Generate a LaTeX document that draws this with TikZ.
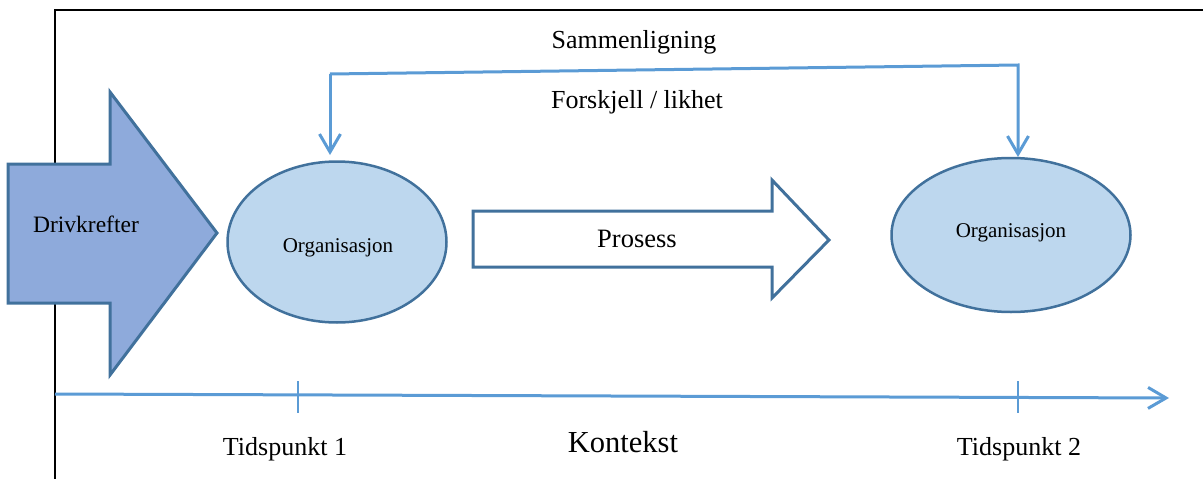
\documentclass[tikz,border=0pt]{standalone}
\usepackage{fontspec}
\setmainfont{Liberation Serif}
\usetikzlibrary{shapes.geometric,arrows.meta}
\definecolor{shapeline}{HTML}{41719C}
\definecolor{drivfill}{HTML}{8EAADB}
\definecolor{orgfill}{HTML}{BDD7EE}
\definecolor{linkblue}{HTML}{5B9BD5}
\tikzset{
  bigarrow/.style={draw=shapeline, line width=3pt, line join=miter},
  orgnode/.style={ellipse, draw=shapeline, fill=orgfill, line width=2.5pt, inner sep=0pt},
  link/.style={draw=linkblue, line width=3pt},
  tick/.style={draw=linkblue, line width=1.5pt},
  lbl/.style={anchor=base, inner sep=0pt, font=\fontsize{26}{30}\selectfont},
  tip/.style={-{Straight Barb[length=18pt,width=21pt]}}
}
\begin{document}
\begin{tikzpicture}[x=1pt,y=-1pt]
\useasboundingbox (0,0) rectangle (1203,479);
% frame
\draw[black, line width=1.5pt] (55,479) -- (55,10) -- (1203,10);
% Drivkrefter arrow
\draw[bigarrow, fill=drivfill] (8,164) -- (110,164) -- (110,92) -- (217,233) -- (110,375) -- (110,303) -- (8,303) -- cycle;
\node[lbl, font=\fontsize{23.5}{28}\selectfont] (driv) at (86,232) {Drivkrefter};
% Prosess arrow
\draw[bigarrow, fill=white] (473,211) -- (772,211) -- (772,180) -- (829,240) -- (772,298) -- (772,267) -- (473,267) -- cycle;
\node[lbl, font=\fontsize{26.5}{30}\selectfont] (pros) at (637,247) {Prosess};
% organisations
\node[orgnode, minimum width=219pt, minimum height=161pt] (org1) at (337,242) {};
\node[orgnode, minimum width=239pt, minimum height=154pt] (org2) at (1011,235) {};
\node[lbl, font=\fontsize{21}{25}\selectfont] (org1t) at (338,252) {Organisasjon};
\node[lbl, font=\fontsize{21}{25}\selectfont] (org2t) at (1011,237) {Organisasjon};
% comparison connector
\coordinate (a1) at (330,155);
\coordinate (c1) at (330,74);
\coordinate (c2) at (1018,65);
\coordinate (a2) at (1018,157);
\draw[link, tip] (c1) -- (a1);
\draw[link, tip] (c1) -- (c2) -- (a2);
\node[lbl] (samm) at (634,48) {Sammenligning};
\node[lbl] (fors) at (637,108) {Forskjell / likhet};
% timeline
\coordinate (t0) at (55,394);
\coordinate (t1) at (1169,398);
\draw[link, -{Straight Barb[length=18pt,width=21pt]}] (t0) -- (t1);
\draw[tick] (298,381) -- (298,413);
\draw[tick] (1018,381) -- (1018,413);
\node[lbl] (tp1) at (285,455) {Tidspunkt 1};
\node[lbl] (tp2) at (1019,455) {Tidspunkt 2};
\node[lbl, font=\fontsize{30.5}{35}\selectfont] (kont) at (623,452) {Kontekst};
\end{tikzpicture}
\end{document}
